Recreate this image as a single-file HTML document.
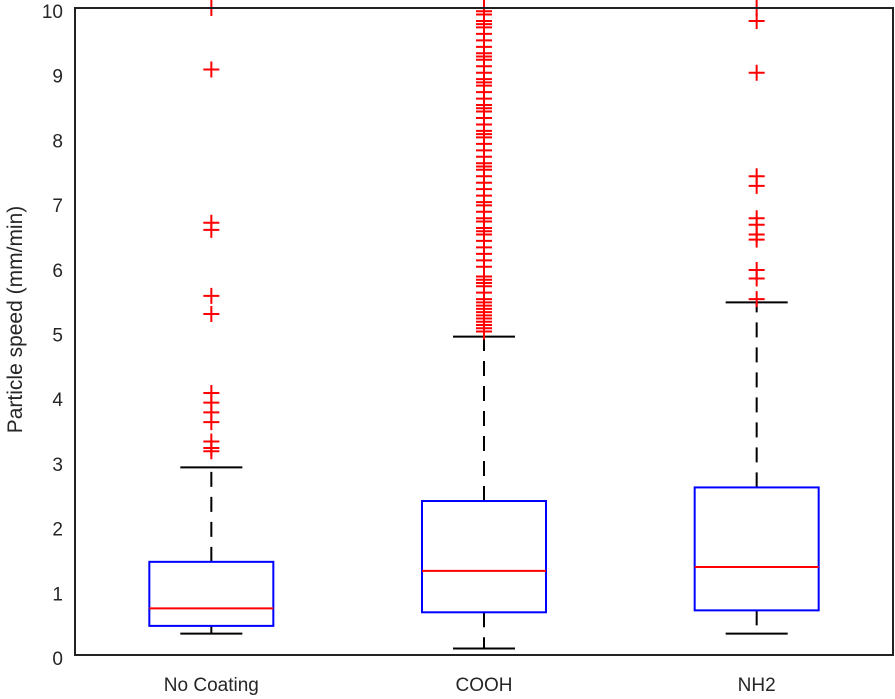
<!DOCTYPE html>
<html><head><meta charset="utf-8"><style>
html,body{margin:0;padding:0;background:#fff;}
svg{display:block;font-family:"Liberation Sans",Arial,sans-serif;}
</style></head><body>
<svg id="chart" width="895" height="699"></svg>
<script>
const categories = ["No Coating", "COOH", "NH2"];
const whiskerLow = [0.33, 0.10, 0.33];
const q1 = [0.45, 0.66, 0.69];
const medians = [0.72, 1.30, 1.36];
const q3 = [1.44, 2.38, 2.59];
const whiskerHigh = [2.90, 4.92, 5.45];
const outliersNoCoating = [10.0, 9.05, 6.68, 6.57, 5.55, 5.27, 4.05, 3.9, 3.75, 3.6, 3.3, 3.2, 3.15];
const outliersCOOH = [5.0,5.05,5.1,5.15,5.2,5.25,5.3,5.35,5.4,5.45,5.5,5.6,5.7,5.75,5.8,5.85,6.0,6.1,6.2,6.3,6.4,6.5,6.55,6.6,6.7,6.75,6.85,6.95,7.0,7.1,7.2,7.3,7.4,7.5,7.55,7.6,7.7,7.8,7.9,8.0,8.05,8.1,8.2,8.3,8.4,8.45,8.5,8.6,8.7,8.8,8.85,8.9,9.0,9.1,9.2,9.25,9.3,9.4,9.5,9.6,9.7,9.75,9.8,9.9,9.95,10.0];
const outliersNH2 = [10.0, 9.8, 9.0, 7.4, 7.25, 6.75, 6.65, 6.5, 6.42, 5.95, 5.82, 5.5];
const yTicks = [0,1,2,3,4,5,6,7,8,9,10];

const svg = document.getElementById('chart');
const NS = 'http://www.w3.org/2000/svg';
const L = 75, R = 893, T = 8, B = 655;
const y = v => B - (v / 10) * (B - T);
const x = i => L + (R - L) * (i + 0.5) / 3;
function mk(tag, attrs, parent) {
  const e = document.createElementNS(NS, tag);
  for (const k in attrs) e.setAttribute(k, attrs[k]);
  (parent || svg).appendChild(e);
  return e;
}
const outs = [outliersNoCoating, outliersCOOH, outliersNH2];
const boxW = 124, capW = 62;
categories.forEach((c, i) => {
  const cx = x(i);
  const g = mk('g', {});
  
  
  const w1 = mk('line', {x1: cx, x2: cx, y1: y(q3[i]), y2: y(whiskerHigh[i]), stroke: '#000', 'stroke-width': 2, 'stroke-dasharray': '15,10'}, g);
  
  
  const w2 = mk('line', {x1: cx, x2: cx, y1: y(q1[i]), y2: y(whiskerLow[i]), stroke: '#000', 'stroke-width': 2, 'stroke-dasharray': '15,10'}, g);
  
  
  [whiskerHigh[i], whiskerLow[i]].forEach(v => {
    const cap = mk('line', {x1: cx - capW / 2, x2: cx + capW / 2, y1: y(v), y2: y(v), stroke: '#000', 'stroke-width': 2}, g);
    
    
  });
  const rect = mk('rect', {x: cx - boxW / 2, y: y(q3[i]), width: boxW, height: y(q1[i]) - y(q3[i]), fill: 'none', stroke: '#0000ff', 'stroke-width': 2}, g);
  
  
  const med = mk('line', {x1: cx - boxW / 2, x2: cx + boxW / 2, y1: y(medians[i]), y2: y(medians[i]), stroke: '#ff0000', 'stroke-width': 2}, g);
  
  
  outs[i].forEach(v => {
    const p = mk('path', {d: `M${cx - 8},${y(v)}H${cx + 8}M${cx},${y(v) - 8}V${y(v) + 8}`, stroke: '#ff0000', 'stroke-width': 2, fill: 'none'}, g);
    
    
  });
  const t = mk('text', {x: cx, y: 691, 'text-anchor': 'middle', 'font-size': 19, fill: '#262626'});
  t.textContent = c;
  
  
});
yTicks.forEach(v => {
  const t = mk('text', {x: L - 12, y: y(v) + 10, 'text-anchor': 'end', 'font-size': 19, fill: '#262626'});
  t.textContent = v;
  
  
});
const frame = mk('rect', {x: L, y: T, width: R - L, height: B - T, fill: 'none', stroke: '#222', 'stroke-width': 2});


const yl = mk('text', {x: 0, y: 0, transform: `translate(22,${(T + B) / 2 - 12}) rotate(-90)`, 'text-anchor': 'middle', 'font-size': 21, fill: '#262626'});
yl.textContent = 'Particle speed (mm/min)';


</script>
</body></html>
